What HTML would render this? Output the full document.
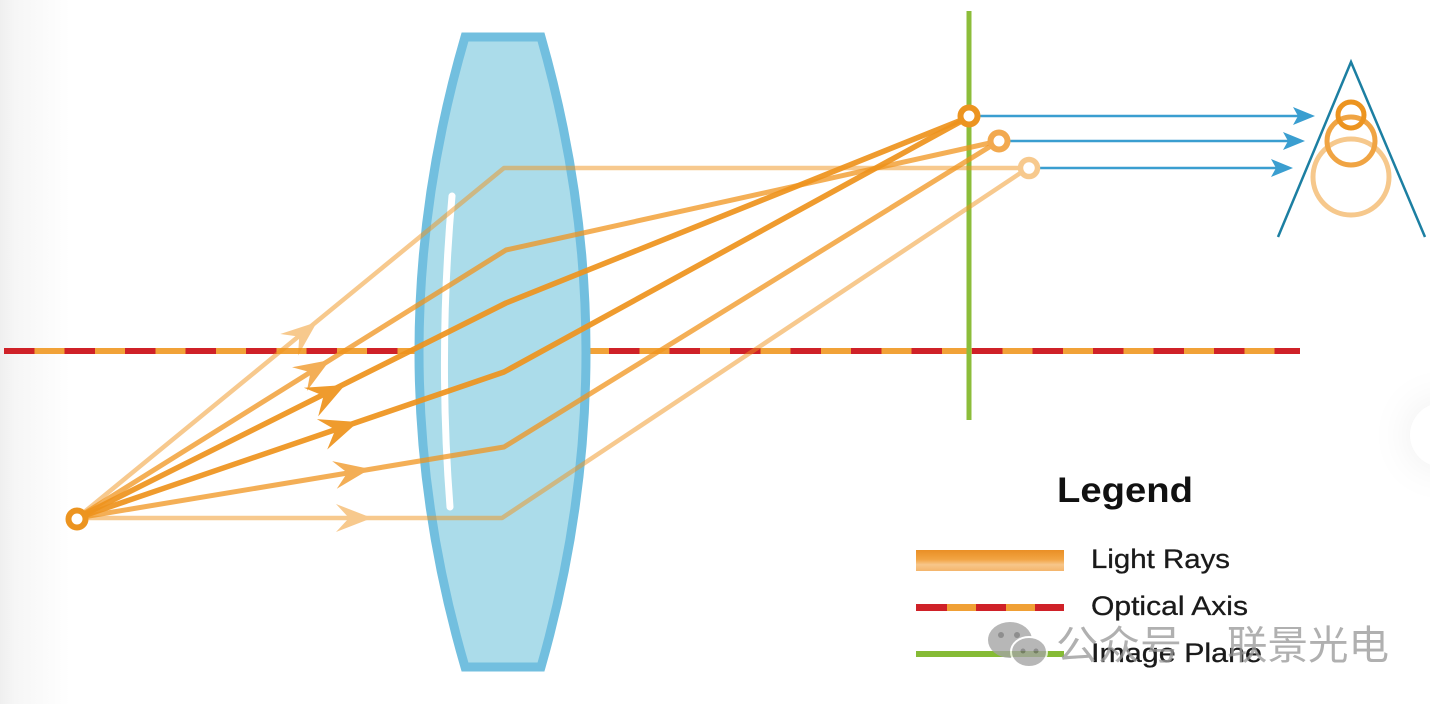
<!DOCTYPE html>
<html>
<head>
<meta charset="utf-8">
<style>
  html,body{margin:0;padding:0;background:#fff;}
  body{width:1430px;height:704px;overflow:hidden;position:relative;}
  .edge{position:absolute;left:0;top:0;width:70px;height:704px;background:linear-gradient(to right,#efefef 0px,#f6f6f6 15px,rgba(255,255,255,0) 70px);}
  .btn{position:absolute;left:1410px;top:403px;width:64px;height:64px;border-radius:50%;background:#fff;box-shadow:0 0 45px rgba(0,0,0,0.08);}
  svg{position:absolute;left:0;top:0;}
</style>
</head>
<body>
<div class="edge"></div>
<div class="btn"></div>
<svg width="1430" height="704" viewBox="0 0 1430 704" xmlns="http://www.w3.org/2000/svg">
  <defs>
    <linearGradient id="lr" x1="0" y1="0" x2="0" y2="1">
      <stop offset="0" stop-color="#e98f25"/>
      <stop offset="0.45" stop-color="#f2a443"/>
      <stop offset="0.7" stop-color="#f7c68a"/>
      <stop offset="1" stop-color="#f4b56c"/>
    </linearGradient>
  </defs>

  <!-- optical axis -->
  <line x1="4" y1="351" x2="1300" y2="351" stroke="#f1a238" stroke-width="6"/>
  <line x1="4" y1="351" x2="1300" y2="351" stroke="#cf2128" stroke-width="6" stroke-dasharray="30.5 30"/>

  <!-- image plane -->
  <line x1="969" y1="11" x2="969" y2="420" stroke="#8cbd3a" stroke-width="5"/>

  <!-- lens -->
  <path d="M465,37 L541,37 Q631,352 541,667 L465,667 Q373,352 465,37 Z" fill="#abdcea" stroke="#72bfdf" stroke-width="9" stroke-linejoin="miter"/>
  <path d="M452,196 Q438,352 450,507" fill="none" stroke="#ffffff" stroke-width="7" stroke-linecap="round"/>

  <!-- rays -->
  <g fill="none" stroke-linejoin="round" stroke-linecap="round">
    <g opacity="0.5">
      <path d="M77,518 L504,168 L1028,168" stroke="#f0941e" stroke-width="4.5"/>
      <path d="M0,0 L-36,-14 L-23,0 L-36,14 Z" fill="#f0941e" stroke="none" transform="translate(317,322) rotate(-39.3)"/>
    </g>
    <g opacity="0.5">
      <path d="M77,518 L502,518 L1028,168" stroke="#f0941e" stroke-width="4.5"/>
      <path d="M0,0 L-36,-14 L-23,0 L-36,14 Z" fill="#f0941e" stroke="none" transform="translate(372,518)"/>
    </g>
    <g opacity="0.75">
      <path d="M77,518 L506,250 L999,141" stroke="#f0941e" stroke-width="5"/>
      <path d="M0,0 L-36,-14 L-23,0 L-36,14 Z" fill="#f0941e" stroke="none" transform="translate(330,360) rotate(-32)"/>
    </g>
    <g opacity="0.75">
      <path d="M77,518 L504,447 L999,141" stroke="#f0941e" stroke-width="5"/>
      <path d="M0,0 L-36,-14 L-23,0 L-36,14 Z" fill="#f0941e" stroke="none" transform="translate(370,469) rotate(-9.4)"/>
    </g>
    <g opacity="0.92">
      <path d="M77,518 L506,303 L969,117" stroke="#ee931c" stroke-width="5.5"/>
      <path d="M0,0 L-38,-16 L-24,0 L-38,16 Z" fill="#ee931c" stroke="none" transform="translate(345,385) rotate(-26.6)"/>
    </g>
    <g opacity="0.92">
      <path d="M77,518 L504,372 L969,117" stroke="#ee931c" stroke-width="5.5"/>
      <path d="M0,0 L-38,-16 L-24,0 L-38,16 Z" fill="#ee931c" stroke="none" transform="translate(358,422) rotate(-18.9)"/>
    </g>
  </g>

  <!-- source point -->
  <circle cx="77" cy="519" r="8.5" fill="#fff" stroke="#ec9420" stroke-width="6"/>

  <!-- blue arrows -->
  <g stroke="#3a9ed0" stroke-width="2.5">
    <line x1="978" y1="116" x2="1300" y2="116"/>
    <line x1="1008" y1="141" x2="1290" y2="141"/>
    <line x1="1038" y1="168" x2="1278" y2="168"/>
  </g>
  <g fill="#3a9ed0">
    <path d="M1315,116 L1293,107 L1298,116 L1293,125 Z"/>
    <path d="M1305,141 L1283,132 L1288,141 L1283,150 Z"/>
    <path d="M1293,168 L1271,159 L1276,168 L1271,177 Z"/>
  </g>

  <!-- image points -->
  <circle cx="1029" cy="168" r="8.5" fill="#fff" stroke="#f7c98d" stroke-width="5.5"/>
  <circle cx="999" cy="141" r="8.5" fill="#fff" stroke="#f2a94f" stroke-width="6"/>
  <circle cx="969" cy="116" r="8.5" fill="#fff" stroke="#ec9420" stroke-width="6"/>

  <!-- eye -->
  <circle cx="1351" cy="177" r="38" fill="none" stroke="#f6c88c" stroke-width="5"/>
  <circle cx="1351" cy="141" r="24" fill="none" stroke="#f0a443" stroke-width="5"/>
  <circle cx="1351" cy="115" r="13" fill="none" stroke="#ec9420" stroke-width="5"/>
  <path d="M1278,237 L1351,62 L1425,237" fill="none" stroke="#1c7fa2" stroke-width="2.5"/>

  <!-- legend -->
  <text x="1057" y="502" font-family="Liberation Sans, sans-serif" font-weight="bold" font-size="35" fill="#111" textLength="136" lengthAdjust="spacingAndGlyphs">Legend</text>
  <rect x="916" y="550" width="148" height="21" fill="url(#lr)"/>
  <text x="1091" y="568" font-family="Liberation Sans, sans-serif" font-size="27" fill="#1a1a1a" stroke="#1a1a1a" stroke-width="0.3" textLength="139" lengthAdjust="spacingAndGlyphs">Light Rays</text>
  <rect x="916" y="604" width="148" height="7" fill="#f0a035"/>
  <rect x="916" y="604" width="31" height="7" fill="#cf2128"/>
  <rect x="976" y="604" width="30" height="7" fill="#cf2128"/>
  <rect x="1035" y="604" width="29" height="7" fill="#cf2128"/>
  <text x="1091" y="615" font-family="Liberation Sans, sans-serif" font-size="27" fill="#1a1a1a" stroke="#1a1a1a" stroke-width="0.3" textLength="157" lengthAdjust="spacingAndGlyphs">Optical Axis</text>
  <rect x="916" y="651" width="148" height="6" fill="#86bb35"/>
  <text x="1091" y="662" font-family="Liberation Sans, sans-serif" font-size="27" fill="#1a1a1a" stroke="#1a1a1a" stroke-width="0.3" textLength="171" lengthAdjust="spacingAndGlyphs">Image Plane</text>

  <!-- watermark -->
  <g opacity="0.78">
    <ellipse cx="1010" cy="640" rx="22" ry="18" fill="#a4a4a4"/>
    <ellipse cx="1029" cy="652" rx="18" ry="15" fill="#a4a4a4" stroke="#fff" stroke-width="2"/>
    <circle cx="1001" cy="635" r="3" fill="#6f6f6f"/>
    <circle cx="1017" cy="635" r="3" fill="#6f6f6f"/>
    <circle cx="1023" cy="651" r="2.5" fill="#6f6f6f"/>
    <circle cx="1036" cy="651" r="2.5" fill="#6f6f6f"/>
    <text x="1056" y="659" font-family="Liberation Sans, 'Noto Sans CJK SC', sans-serif" font-size="40" fill="#9a9a9a" textLength="126" lengthAdjust="spacingAndGlyphs">公众号</text>
    <text x="1227" y="659" font-family="Liberation Sans, 'Noto Sans CJK SC', sans-serif" font-size="40" fill="#9a9a9a" textLength="162" lengthAdjust="spacingAndGlyphs">联景光电</text>
  </g>
</svg>
</body>
</html>
